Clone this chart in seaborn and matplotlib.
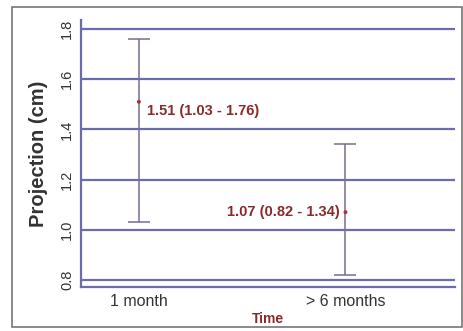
import numpy as np
import pandas as pd
import seaborn as sns
import matplotlib.pyplot as plt
from matplotlib.patches import Rectangle

# values
times = ["1 month", "> 6 months"]
medians = [1.51, 1.07]
lower = [1.03, 0.82]
upper = [1.76, 1.34]
labels = ["1.51 (1.03 - 1.76)", "1.07 (0.82 - 1.34)"]
yticks = [0.8, 1.0, 1.2, 1.4, 1.6, 1.8]

df = pd.DataFrame({"time": times, "median": medians, "lo": lower, "hi": upper})

sns.set_style("white")
plt.rcParams["font.family"] = ["Liberation Sans", "DejaVu Sans"]

fig = plt.figure(figsize=(4.64, 3.31), dpi=100)
ax = fig.add_axes([0.1746, 0.133, 0.806, 0.8066])

grid_col = "#6c6cac"
bar_col = "#7b6b93"
txt_col = "#8b2a2a"

for v in yticks:
    ax.axhline(v, color=grid_col, lw=1.6, zorder=0)

sns.scatterplot(data=df, x="time", y="median", ax=ax, color="#b03030",
                s=8, edgecolor="none", zorder=3, legend=False)
ax.errorbar(df["time"], df["median"],
            yerr=[df["median"] - df["lo"], df["hi"] - df["median"]],
            fmt="none", ecolor=bar_col, elinewidth=1.1, capsize=8,
            capthick=1.1, zorder=2)

ax.text(0.04, df["median"][0] - 0.01, labels[0], color=txt_col,
        fontsize=10.5, fontweight="bold", ha="left", va="top")
ax.text(0.97, df["median"][1], labels[1], color=txt_col,
        fontsize=10.5, fontweight="bold", ha="right", va="center")

ax.set_xlim(-0.28, 1.53)
ax.set_ylim(0.772, 1.836)
ax.set_yticks(yticks)
ax.set_yticklabels([f"{v:.1f}" for v in yticks], rotation=90, va="center",
                   fontsize=10.5, color="#333333")
ax.tick_params(axis="x", labelsize=11.5, colors="#333333", length=3,
               width=1, pad=2)
ax.tick_params(axis="y", length=3, width=1, pad=2)

for s in ["top", "right"]:
    ax.spines[s].set_visible(False)
for s in ["left", "bottom"]:
    ax.spines[s].set_color(grid_col)
    ax.spines[s].set_linewidth(1.6)

ax.set_xlabel("Time", fontsize=10, fontweight="bold", color=txt_col, labelpad=2)
ax.set_ylabel("Projection (cm)", fontsize=14.5, fontweight="bold",
              color="#333333", labelpad=9)

fig.patches.append(Rectangle((12 / 464, 4 / 331), 450 / 464, 320 / 331,
                             transform=fig.transFigure, fill=False,
                             edgecolor="#777777", lw=1.2))

fig.savefig("out.png", dpi=100)
